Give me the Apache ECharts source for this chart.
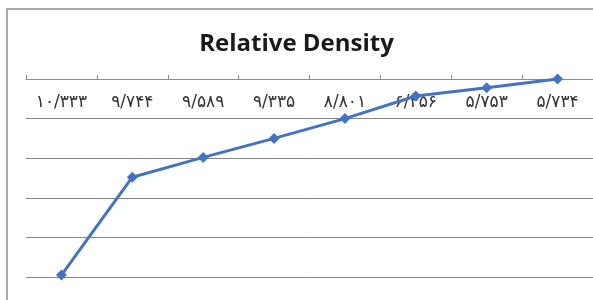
<!DOCTYPE html>
<html>
<head>
<meta charset="utf-8">
<script src="https://cdn.jsdelivr.net/npm/echarts@6/dist/echarts.min.js"></script>
<style>
	html, body { margin: 0; padding: 0; background: #fff; }
	#chart { width: 593px; height: 300px; }
</style>
</head>
<body>
<div id="chart"></div>
<script>
var categories = ['۱۰/۳۳۳', '۹/۷۴۴', '۹/۵۸۹', '۹/۳۳۵', '۸/۸۰۱', '۶/۴۵۶', '۵/۷۵۳', '۵/۷۳۴'];
var density = [4.95, 2.48, 1.98, 1.5, 1.0, 0.43, 0.22, 0.0];

var myChart = echarts.init(document.getElementById('chart'));
var option = {
	backgroundColor: '#fff',
	animation: false,
	title: {
		text: 'Relative Density',
		left: 'center',
		top: 27,
		textStyle: {
			fontFamily: 'Open Sans',
			fontSize: 24,
			fontWeight: 'bold',
			color: '#1a1a1a'
		}
	}, //标题
	graphic: [{
		type: 'rect',
		z: -1,
		shape: { x: 7, y: 9, width: 700, height: 400 },
		style: { fill: 'none', stroke: '#a8a8a8', lineWidth: 2 }
	}], //外框
	grid: {
		left: 26,
		right: -3,
		top: 79,
		bottom: 23
	},
	xAxis: {
		type: 'category',
		position: 'top',
		boundaryGap: true,
		data: categories,
		axisLine: { lineStyle: { color: '#8c8c8c', width: 1 } },
		axisTick: { show: true, length: 4, lineStyle: { color: '#8c8c8c' } },
		axisLabel: {
			inside: true,
			margin: 15,
			fontFamily: 'DejaVu Sans',
			fontSize: 17,
			color: '#333'
		}
	},
	yAxis: {
		type: 'value',
		inverse: true,
		min: 0,
		max: 5,
		interval: 1,
		axisLine: { show: false },
		axisTick: { show: false },
		axisLabel: { show: false },
		splitLine: { lineStyle: { color: '#858585', width: 1 } }
	},
	series: [{
		type: 'line',
		data: density,
		symbol: 'diamond',
		symbolSize: 11,
		lineStyle: { color: '#4472c4', width: 3 },
		itemStyle: { color: '#4472c4' }
	}]
};
myChart.setOption(option);
</script>
</body>
</html>
